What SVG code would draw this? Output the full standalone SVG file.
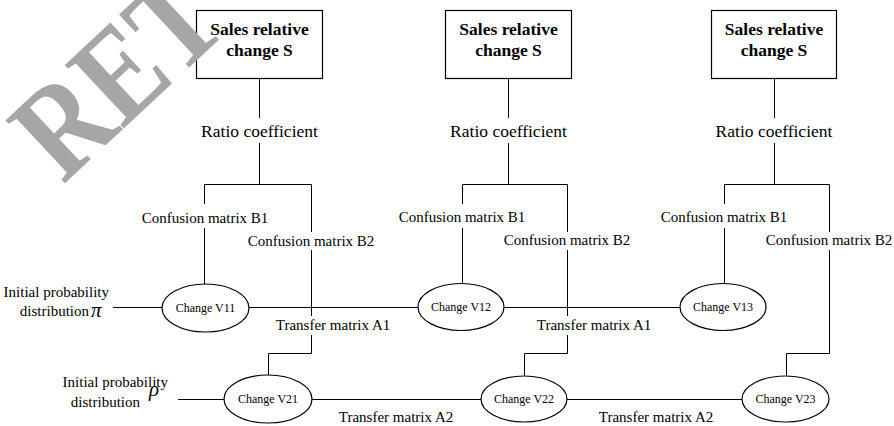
<svg xmlns="http://www.w3.org/2000/svg" width="894" height="426" viewBox="0 0 894 426">
<style>
.ln{fill:none;stroke:#000;stroke-width:1}
.box{fill:#fff;stroke:#000;stroke-width:1.2}
.el{fill:#fff;stroke:#000;stroke-width:1.2}
text{font-family:"Liberation Serif","Times New Roman",serif;fill:#000}
.bt{font-weight:bold;font-size:17.5px;text-anchor:middle}
.rc{font-size:17.5px;text-anchor:middle}
.lb{font-size:15px;text-anchor:middle}
.le{font-size:15px;text-anchor:end}
.en{font-size:12px;text-anchor:middle}
.gr{font-size:21px;font-style:italic}
.wm{font-size:112px;font-weight:bold;fill:#a6a6a6}
</style>
<rect width="894" height="426" fill="#fff"/>
<g id="connectors" class="ln">
  <!-- column 1 -->
  <path d="M259.5 78.5V118M259.5 143V184.5"/>
  <path d="M204.5 184.5H311.5"/>
  <path d="M204.5 184.5V204M204.5 228V284"/>
  <path d="M311.5 184.5V232M311.5 250V316M311.5 335V353.5H268.5V375"/>
  <!-- column 2 -->
  <path d="M508.5 78.5V118M508.5 143V184.5"/>
  <path d="M462.5 184.5H567.5"/>
  <path d="M462.5 184.5V204M462.5 228V283"/>
  <path d="M567.5 184.5V232M567.5 250V316M567.5 335V353.5H524.5V376"/>
  <!-- column 3 -->
  <path d="M774.5 78.5V118M774.5 143V184.5"/>
  <path d="M724.5 184.5H829.5"/>
  <path d="M724.5 184.5V204M724.5 228V283"/>
  <path d="M829.5 184.5V232M829.5 250V353.5H786.5V376"/>
  <!-- horizontal chains -->
  <path d="M113 307.5H162M249 307.5H418M504 307.5H680"/>
  <path d="M178 399.5H224M312 399.5H481M567 399.5H742"/>
</g>
<g id="labels">
  <text class="rc" x="259.5" y="137">Ratio coefficient</text>
  <text class="rc" x="508.5" y="137">Ratio coefficient</text>
  <text class="rc" x="774" y="137">Ratio coefficient</text>
  <text class="lb" x="205" y="223">Confusion matrix B1</text>
  <text class="lb" x="462" y="222">Confusion matrix B1</text>
  <text class="lb" x="724" y="222">Confusion matrix B1</text>
  <text class="lb" x="311" y="246">Confusion matrix B2</text>
  <text class="lb" x="567" y="245">Confusion matrix B2</text>
  <text class="lb" x="829" y="245">Confusion matrix B2</text>
  <text class="lb" x="333" y="330">Transfer matrix A1</text>
  <text class="lb" x="594" y="330">Transfer matrix A1</text>
  <text class="lb" x="396" y="422">Transfer matrix A2</text>
  <text class="lb" x="656" y="422">Transfer matrix A2</text>
  <text class="le" x="109" y="297">Initial probability</text>
  <text class="le" x="89" y="316">distribution</text>
  <text class="gr" x="91" y="317">π</text>
  <text class="le" x="168" y="387">Initial probability</text>
  <text class="le" x="140" y="407">distribution</text>
  <text class="gr" x="149" y="396">ρ</text>
</g>
<g id="S1"><rect class="box" x="196.5" y="10.5" width="126" height="68"/><text class="bt" x="259.5" y="35">Sales relative</text><text class="bt" x="259.5" y="56">change S</text></g>
<g id="S2"><rect class="box" x="445.5" y="10.5" width="126" height="68"/><text class="bt" x="508.5" y="35">Sales relative</text><text class="bt" x="508.5" y="56">change S</text></g>
<g id="S3"><rect class="box" x="711.5" y="10.5" width="125" height="68"/><text class="bt" x="774" y="35">Sales relative</text><text class="bt" x="774" y="56">change S</text></g>
<g id="V11"><ellipse class="el" cx="205.5" cy="308" rx="43.5" ry="24"/><text class="en" x="205.5" y="312">Change V11</text></g>
<g id="V12"><ellipse class="el" cx="461" cy="307" rx="43" ry="23.5"/><text class="en" x="461" y="311">Change V12</text></g>
<g id="V13"><ellipse class="el" cx="723" cy="307" rx="43" ry="23.5"/><text class="en" x="723" y="311">Change V13</text></g>
<g id="V21"><ellipse class="el" cx="268" cy="399" rx="44" ry="24"/><text class="en" x="268" y="403">Change V21</text></g>
<g id="V22"><ellipse class="el" cx="524" cy="399" rx="43" ry="23"/><text class="en" x="524" y="403">Change V22</text></g>
<g id="V23"><ellipse class="el" cx="785.5" cy="399" rx="43.5" ry="23"/><text class="en" x="785.5" y="403">Change V23</text></g>
<g id="watermark"><text class="wm" transform="translate(63 185) rotate(-43) scale(1 1.18)">RET</text></g>
</svg>
